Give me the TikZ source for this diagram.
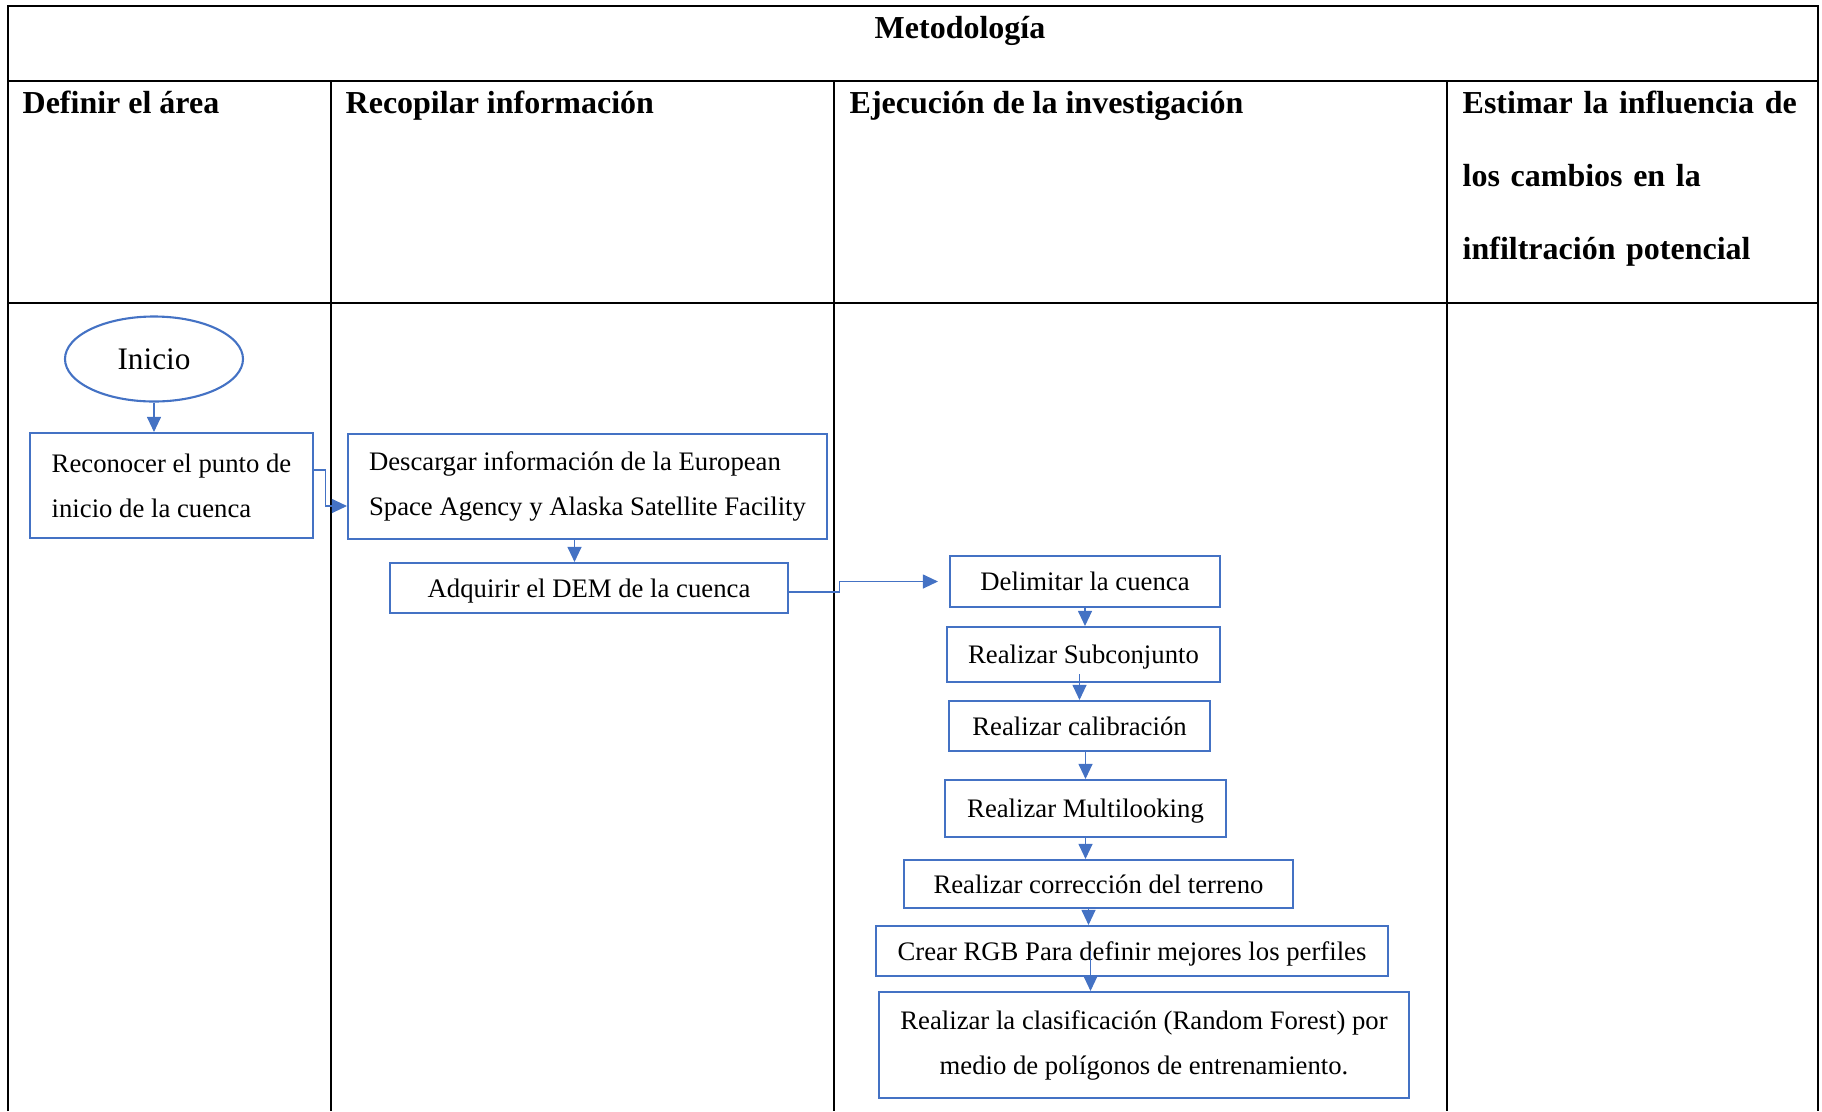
\documentclass[tikz,border=0pt]{standalone}
\usepackage{fontspec}
\setmainfont{Liberation Serif}
\usetikzlibrary{shapes.geometric,arrows.meta}
\definecolor{azul}{HTML}{4472C4}
\tikzset{
    caja/.style={draw=azul,line width=0.6pt,inner sep=0pt,font=\fontsize{7.6}{12.8}\selectfont},
    paso/.style={caja,text depth=0pt},
    flecha/.style={draw=azul,line width=0.3pt,-{Triangle[length=0.15cm,width=0.14cm]}},
    encabezado/.style={anchor=base west,inner sep=0pt,font=\bfseries\fontsize{9.1}{20.8}\selectfont},
    linea/.style={line width=0.45pt}
}

\begin{document}
\begin{tikzpicture}
    \useasboundingbox (0,0) rectangle (18.22,-11.11);
    % tabla
    \draw[linea] (0.08,-11.11) -- (0.08,-0.06) -- (18.18,-0.06) -- (18.18,-11.11);
    \draw[linea] (0.08,-0.81) -- (18.18,-0.81);
    \draw[linea] (0.08,-3.03) -- (18.18,-3.03);
    \foreach \x in {3.31,8.34,14.47}
        \draw[linea] (\x,-0.81) -- (\x,-11.11);
    \node[anchor=base,inner sep=0pt,font=\bfseries\fontsize{9.1}{11}\selectfont] (titulo) at (9.60,-0.38) {Metodología};
    \node[encabezado] (definir) at (0.22,-1.13) {Definir el área};
    \node[encabezado] (recopilar) at (3.45,-1.13) {Recopilar información};
    \node[encabezado] (ejecucion) at (8.49,-1.13) {Ejecución de la investigación};
    \node[encabezado,text width=3.5cm,align=left] (estimar) at (14.62,-1.13) {Estimar la influencia de\\los cambios en la\\infiltración potencial};

    % diagrama
    \node[caja,ellipse,minimum width=1.78cm,minimum height=0.85cm,font=\fontsize{8.9}{10}\selectfont] (inicio) at (1.54,-3.59) {Inicio\hspace{0.1cm}};
    \node[caja,minimum width=2.83cm,minimum height=1.05cm,align=left] (reco) at (1.715,-4.855) {Reconocer el punto de\\inicio de la cuenca\hspace{0.52cm}};
    \node[caja,minimum width=4.79cm,minimum height=1.05cm,align=left] (desc) at (5.875,-4.865) {Descargar información de la European\\Space Agency y Alaska Satellite Facility};
    \node[paso,minimum width=3.98cm,minimum height=0.50cm] (adq) at (5.89,-5.88) {Adquirir el DEM de la cuenca};
    \node[paso,minimum width=2.70cm,minimum height=0.51cm] (deli) at (10.85,-5.815) {Delimitar la cuenca\hspace{0.18cm}};
    \node[paso,minimum width=2.73cm,minimum height=0.55cm] (subc) at (10.835,-6.545) {Realizar Subconjunto};
    \node[paso,minimum width=2.61cm,minimum height=0.50cm] (cali) at (10.795,-7.26) {Realizar calibración};
    \node[paso,minimum width=2.81cm,minimum height=0.57cm] (mult) at (10.855,-8.085) {Realizar Multilooking};
    \node[paso,minimum width=3.89cm,minimum height=0.48cm] (corr) at (10.985,-8.84) {Realizar corrección del terreno};
    \node[paso,minimum width=5.12cm,minimum height=0.50cm] (rgb) at (11.32,-9.51) {Crear RGB Para definir mejores los perfiles};
    \node[caja,minimum width=5.30cm,minimum height=1.06cm,align=center] (clas) at (11.44,-10.45) {Realizar la clasificación (Random Forest) por\\medio de polígonos de entrenamiento.};

    \draw[flecha] (inicio.south) -- (inicio.south |- reco.north);
    \draw[flecha] ([yshift=0.155cm]reco.east) -- ++(0.11,0) |- ([yshift=-0.195cm]desc.west);
    \draw[flecha] ([xshift=-0.13cm]desc.south) -- ([xshift=-0.13cm]desc.south |- adq.north);
    \draw[flecha,shorten >=0.11cm] ([yshift=-0.04cm]adq.east) -- ++(0.50,0) |- (deli.west);
    \draw[flecha] (deli.south) -- (deli.south |- subc.north);
    \draw[flecha] ([yshift=0.09cm]subc.south -| cali.north) -- (cali.north);
    \draw[flecha] (cali.south -| mult.north) -- (mult.north);
    \draw[flecha] (mult.south) -- (mult.south |- corr.north);
    \draw[flecha] ([xshift=0.03cm]corr.south -| mult.south) -- ([xshift=0.03cm]rgb.north -| mult.south);
    \draw[flecha] ([xshift=0.05cm]rgb.center -| mult.south) -- ([xshift=0.05cm]clas.north -| mult.south);
\end{tikzpicture}
\end{document}
